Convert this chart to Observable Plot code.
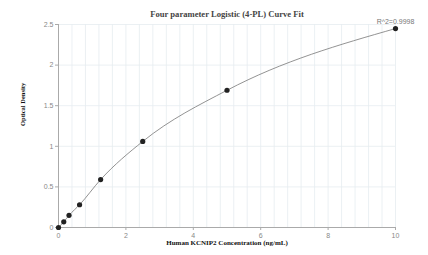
<!DOCTYPE html>
<html><head><meta charset="utf-8">
<script src="https://cdn.jsdelivr.net/npm/d3@7"></script>
<script src="https://cdn.jsdelivr.net/npm/@observablehq/plot@0.6"></script>
<style>body{margin:0;background:#fff}</style>
</head><body><div id="chart"></div>
<script>
const concentrations = [0, 0.156, 0.3125, 0.625, 1.25, 2.5, 5, 10];
const odValues = [0.0, 0.07, 0.15, 0.28, 0.59, 1.06, 1.69, 2.45];
const xTicks = [0, 2, 4, 6, 8, 10];
const yTicks = [0, 0.5, 1, 1.5, 2, 2.5];
const xGrid = [0.4,0.8,1.2,1.6,2,2.4,2.8,3.2,3.6,4,4.4,4.8,5.2,5.6,6,6.4,6.8,7.2,7.6,8,8.4,8.8,9.2,9.6,10];
const titleText = "Four parameter Logistic (4-PL) Curve Fit";
const xLabel = "Human KCNIP2 Concentration (ng/mL)";
const yLabel = "Optical Density";
const r2Label = "R^2=0.9998";

const data = concentrations.map((c, i) => ({c, od: odValues[i]}));
const serif = "'Liberation Serif', 'DejaVu Serif', serif";

const chart = Plot.plot({
  width: 428, height: 255,
  marginLeft: 58, marginRight: 33, marginTop: 24, marginBottom: 28,
  style: {fontFamily: "'Liberation Sans', Arial, sans-serif", fontSize: "7px", color: "#888", background: "#fff"},
  x: {domain: [0, 10], label: null},
  y: {domain: [0, 2.5], label: null},
  marks: [
    Plot.ruleX(xGrid, {stroke: "#e6ecf0", strokeWidth: 0.8}),
    Plot.ruleY(yTicks.slice(1), {stroke: "#e6ecf0", strokeWidth: 0.8}),
    Plot.axisX({ticks: xTicks, tickSize: 3, stroke: "#aaa", fill: "#888", tickPadding: 3, tickFormat: d => String(d), label: null}),
    Plot.axisY({ticks: yTicks, tickSize: 3, stroke: "#aaa", fill: "#888", tickPadding: 2, tickFormat: d => String(d), label: null}),
    Plot.ruleX([0], {stroke: "#aaa"}),
    Plot.ruleY([0], {stroke: "#aaa"}),
    Plot.line(data, {x: "c", y: "od", curve: "monotone-x", stroke: "#777", strokeWidth: 0.8}),
    Plot.dot(data, {x: "c", y: "od", r: 2.6, fill: "#222"}),
    Plot.text([r2Label], {x: () => 10, y: () => 2.5, text: d => d, textAnchor: "middle", dy: -3, fill: "#777", fontSize: 7}),
    Plot.text([titleText], {frameAnchor: "top", dy: -14, text: d => d, fontFamily: serif, fontWeight: "bold", fontSize: 8.6, fill: "#444"}),
    Plot.text([xLabel], {frameAnchor: "bottom", dy: 17, text: d => d, fontFamily: serif, fontWeight: "bold", fontSize: 7, fill: "#111"}),
    Plot.text([yLabel], {frameAnchor: "left", dx: -36, rotate: -90, text: d => d, fontFamily: serif, fontWeight: "bold", fontSize: 6.5, fill: "#111"})
  ]
});
document.getElementById("chart").appendChild(chart);
</script></body></html>
